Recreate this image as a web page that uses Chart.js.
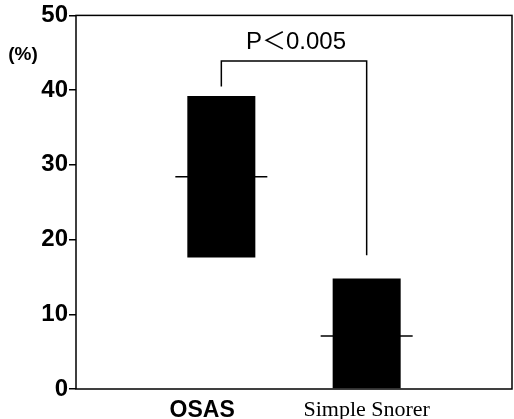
<!DOCTYPE html>
<html>
<head>
<meta charset="utf-8">
<script src="https://cdn.jsdelivr.net/npm/chart.js@4"></script>
<style>
  html, body { margin:0; padding:0; background:#fff; overflow:hidden; }
  canvas { display:block; }
</style>
</head>
<body>
<canvas id="chart" width="514" height="419"></canvas>
<script>
// Data (empty end slots keep the groups spaced like the original)
const categories = ['', 'OSAS', 'Simple Snorer', ''];
const rangeLow  = [null, 17.6, 0, null];
const rangeHigh = [null, 39.2, 14.8, null];
const medians   = [null, 28.4, 7.1, null];
const yTicks    = [0, 10, 20, 30, 40, 50];
const pLabel    = 'P＜0.005';
// bracket levels: left drop end, bar top level, right drop end, text level
const bracket   = {left: 40.5, top: 43.9, right: 17.9, text: 46.4};

const ranges = rangeLow.map((lo, i) => lo === null ? null : [lo, rangeHigh[i]]);

// frame around the plot + p-value bracket + (%) label
const extras = {
  id: 'extras',
  afterDraw(c) {
    const {ctx, chartArea: a, scales: {x, y}} = c;
    ctx.save();
    ctx.strokeStyle = '#000';
    ctx.lineWidth = 1.5;
    ctx.strokeRect(a.left, a.top, a.right - a.left, a.bottom - a.top);

    const x1 = x.getPixelForValue(1), x2 = x.getPixelForValue(2);
    ctx.beginPath();
    ctx.moveTo(x1, y.getPixelForValue(bracket.left));
    ctx.lineTo(x1, y.getPixelForValue(bracket.top));
    ctx.lineTo(x2, y.getPixelForValue(bracket.top));
    ctx.lineTo(x2, y.getPixelForValue(bracket.right));
    ctx.stroke();

    ctx.fillStyle = '#000';
    ctx.textAlign = 'center';
    ctx.textBaseline = 'middle';
    ctx.font = '24px "Liberation Sans", "Noto Sans CJK JP", sans-serif';
    ctx.fillText(pLabel, (x1 + x2) / 2 + 2, y.getPixelForValue(bracket.text));

    ctx.font = 'bold 19px "Liberation Sans", Arial, sans-serif';
    ctx.fillText('(%)', 23, 55);
    ctx.restore();
  }
};

new Chart(document.getElementById('chart'), {
  type: 'bar',
  data: {
    labels: categories,
    datasets: [
      {
        type: 'line',
        data: medians,
        showLine: false,
        pointStyle: 'line',
        pointRadius: 46,
        pointHoverRadius: 46,
        pointBorderWidth: 1.5,
        pointBorderColor: '#000',
        borderColor: '#000',
        clip: false,
        order: 0
      },
      {
        data: ranges,
        backgroundColor: '#000',
        barPercentage: 0.468,
        categoryPercentage: 1,
        order: 1
      }
    ]
  },
  options: {
    responsive: false,
    animation: false,
    events: [],
    layout: { autoPadding: false, padding: { top: 14, right: 2, left: 0, bottom: 0 } },
    plugins: { legend: { display: false }, tooltip: { enabled: false } },
    scales: {
      x: {
        offset: false,
        grid: { display: false },
        border: { display: false },
        ticks: {
          color: '#000',
          padding: 0,
          maxRotation: 0,
          autoSkip: false,
          // the OSAS label sits a little left of its bar in the original
          callback: (v, i) => i === 1 ? categories[i] + '      ' : categories[i],
          font: ctx => ctx.index === 1
            ? { family: '"Liberation Sans", Arial, sans-serif', size: 23, weight: 'bold' }
            : { family: '"Liberation Serif", "Times New Roman", serif', size: 22 }
        },
        afterFit(s) { s.height = 30; }
      },
      y: {
        min: 0,
        max: 50,
        afterBuildTicks(s) { s.ticks = yTicks.map(v => ({ value: v })); },
        grid: { drawOnChartArea: false, drawTicks: true, tickLength: 7, color: '#000', lineWidth: 1.5 },
        border: { display: false },
        ticks: {
          color: '#000',
          padding: 1,
          font: { family: '"Liberation Sans", Arial, sans-serif', size: 24, weight: 'bold' }
        },
        afterFit(s) { s.width = 76; }
      }
    }
  },
  plugins: [extras]
});
</script>
</body>
</html>
